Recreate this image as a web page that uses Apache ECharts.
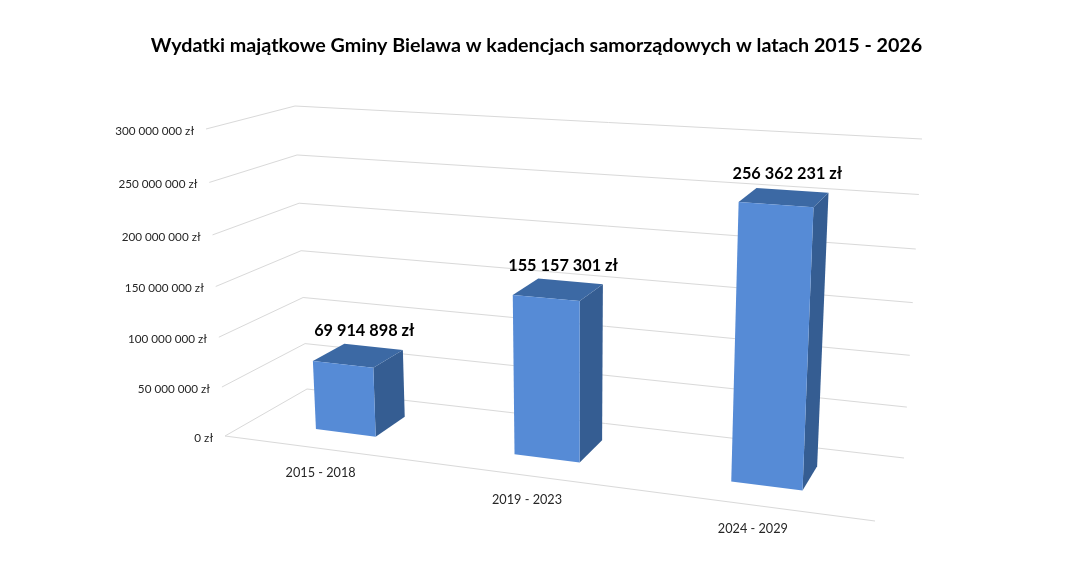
<!DOCTYPE html>
<html><head><meta charset="utf-8">
<style>html,body{margin:0;padding:0;background:#fff}#c{width:1079px;height:576px}</style>
<script src="https://cdn.jsdelivr.net/npm/echarts@6/dist/echarts.min.js"></script>
</head><body><div id="c"></div>
<script>
const titleText = 'Wydatki majątkowe Gminy Bielawa w kadencjach samorządowych w latach 2015 - 2026';
const categories = ['2015 - 2018', '2019 - 2023', '2024 - 2029'];
const values = [69914898, 155157301, 256362231];
const valueLabels = ['69 914 898 zł', '155 157 301 zł', '256 362 231 zł'];
const yTicks = [0, 50000000, 100000000, 150000000, 200000000, 250000000, 300000000];
const yTickLabels = ['0 zł', '50 000 000 zł', '100 000 000 zł', '150 000 000 zł', '200 000 000 zł', '250 000 000 zł', '300 000 000 zł'];

// Camera: where the corners of the chart box land on screen (BL, BR, TR, TL)
const frontPlane = [[225,436],[875,521],[893,172],[206,129]];
const backPlane  = [[307,389],[904,458],[922,139],[295,106]];
const barFrontDepth = 0.32, barBackDepth = 0.72, barFraction = 0.31;
const FONT = 'Lato, Carlito, sans-serif';

function homography(q){
  const [x0,y0]=q[0],[x1,y1]=q[1],[x2,y2]=q[2],[x3,y3]=q[3];
  const dx1=x1-x2,dx2=x3-x2,sx=x0-x1+x2-x3,dy1=y1-y2,dy2=y3-y2,sy=y0-y1+y2-y3;
  const det=dx1*dy2-dx2*dy1;
  const g=(sx*dy2-dx2*sy)/det,h=(dx1*sy-sx*dy1)/det;
  const a=x1-x0+g*x1,b=x3-x0+h*x3,d=y1-y0+g*y1,e=y3-y0+h*y3;
  return (u,v)=>{const w=g*u+h*v+1;return [(a*u+b*v+x0)/w,(d*u+e*v+y0)/w];};
}
const Hf=homography(frontPlane),Hb=homography(backPlane);
function project(u,v,depth){
  const f=Hf(u,v),b=Hb(u,v);
  return [f[0]+(b[0]-f[0])*depth,f[1]+(b[1]-f[1])*depth];
}
function unit(api,params,cat,val){
  const g=params.coordSys,p=api.coord([cat,val]);
  return [(p[0]-g.x)/g.width,(g.y+g.height-p[1])/g.height];
}
const chart=echarts.init(document.getElementById('c'),null,{renderer:'canvas'});
const gridStyle={stroke:'#d9d9d9',lineWidth:1,fill:null};

chart.setOption({
  animation:false,
  backgroundColor:'#ffffff',
  title:{text:titleText,left:531.5,top:31,textAlign:'center',textStyle:{fontFamily:FONT,fontSize:19.7,fontWeight:'bold',color:'#000'}},
  grid:{left:100,right:100,top:100,bottom:100},
  xAxis:{type:'category',data:categories,show:false},
  yAxis:{type:'value',min:0,max:300000000,interval:50000000,show:false},
  series:[
    {type:'custom',silent:true,z:1,data:yTicks.map((t,i)=>[0,t,yTickLabels[i]]),
     renderItem(params,api){
       const g=params.coordSys,v=(g.y+g.height-api.coord([0,api.value(1)])[1])/g.height;
       const a=project(0,v,0),b=project(0,v,1),c=project(1,v,1);
       const ch=[
         {type:'polyline',shape:{points:[a,b,c]},style:gridStyle},
         {type:'text',style:{x:a[0]-12,y:a[1]+2,text:yTickLabels[params.dataIndex],align:'right',verticalAlign:'middle',fontFamily:FONT,fontSize:11.7,fill:'#262626'}}
       ];
       if(api.value(1)===0) ch.push({type:'line',shape:{x1:a[0],y1:a[1],x2:project(1,0,0)[0],y2:project(1,0,0)[1]},style:gridStyle});
       return {type:'group',children:ch};
     }},
    {type:'custom',silent:true,z:2,data:categories.map((c,i)=>[i,values[i]]),
     renderItem(params,api){
       const g=params.coordSys,i=api.value(0),val=api.value(1);
       const [uc,v]=unit(api,params,i,val);
       const hw=api.size([1,0])[0]/g.width*barFraction/2;
       const u0=uc-hw,u1=uc+hw,d0=barFrontDepth,d1=barBackDepth;
       const P=(u,vv,d)=>project(u,vv,d);
       const poly=(pts,fill)=>({type:'polygon',shape:{points:pts},style:{fill}});
       const lab=project(uc,v,0.6),xl=project(uc,0,0);
       return {type:'group',children:[
         poly([P(u1,0,d0),P(u1,0,d1),P(u1,v,d1),P(u1,v,d0)],'#355d92'),
         poly([P(u0,v,d0),P(u1,v,d0),P(u1,v,d1),P(u0,v,d1)],'#3c69a4'),
         poly([P(u0,0,d0),P(u1,0,d0),P(u1,v,d0),P(u0,v,d0)],'#568bd6'),
         {type:'text',style:{x:lab[0],y:lab[1]-21,text:valueLabels[i],align:'center',verticalAlign:'middle',fontFamily:FONT,fontSize:16.3,fontWeight:'bold',fill:'#000'}},
         {type:'text',style:{x:xl[0]-1,y:xl[1]+24,text:categories[i],align:'center',verticalAlign:'middle',fontFamily:FONT,fontSize:12.7,fill:'#262626'}}
       ]};
     }}
  ]
});
</script></body></html>
